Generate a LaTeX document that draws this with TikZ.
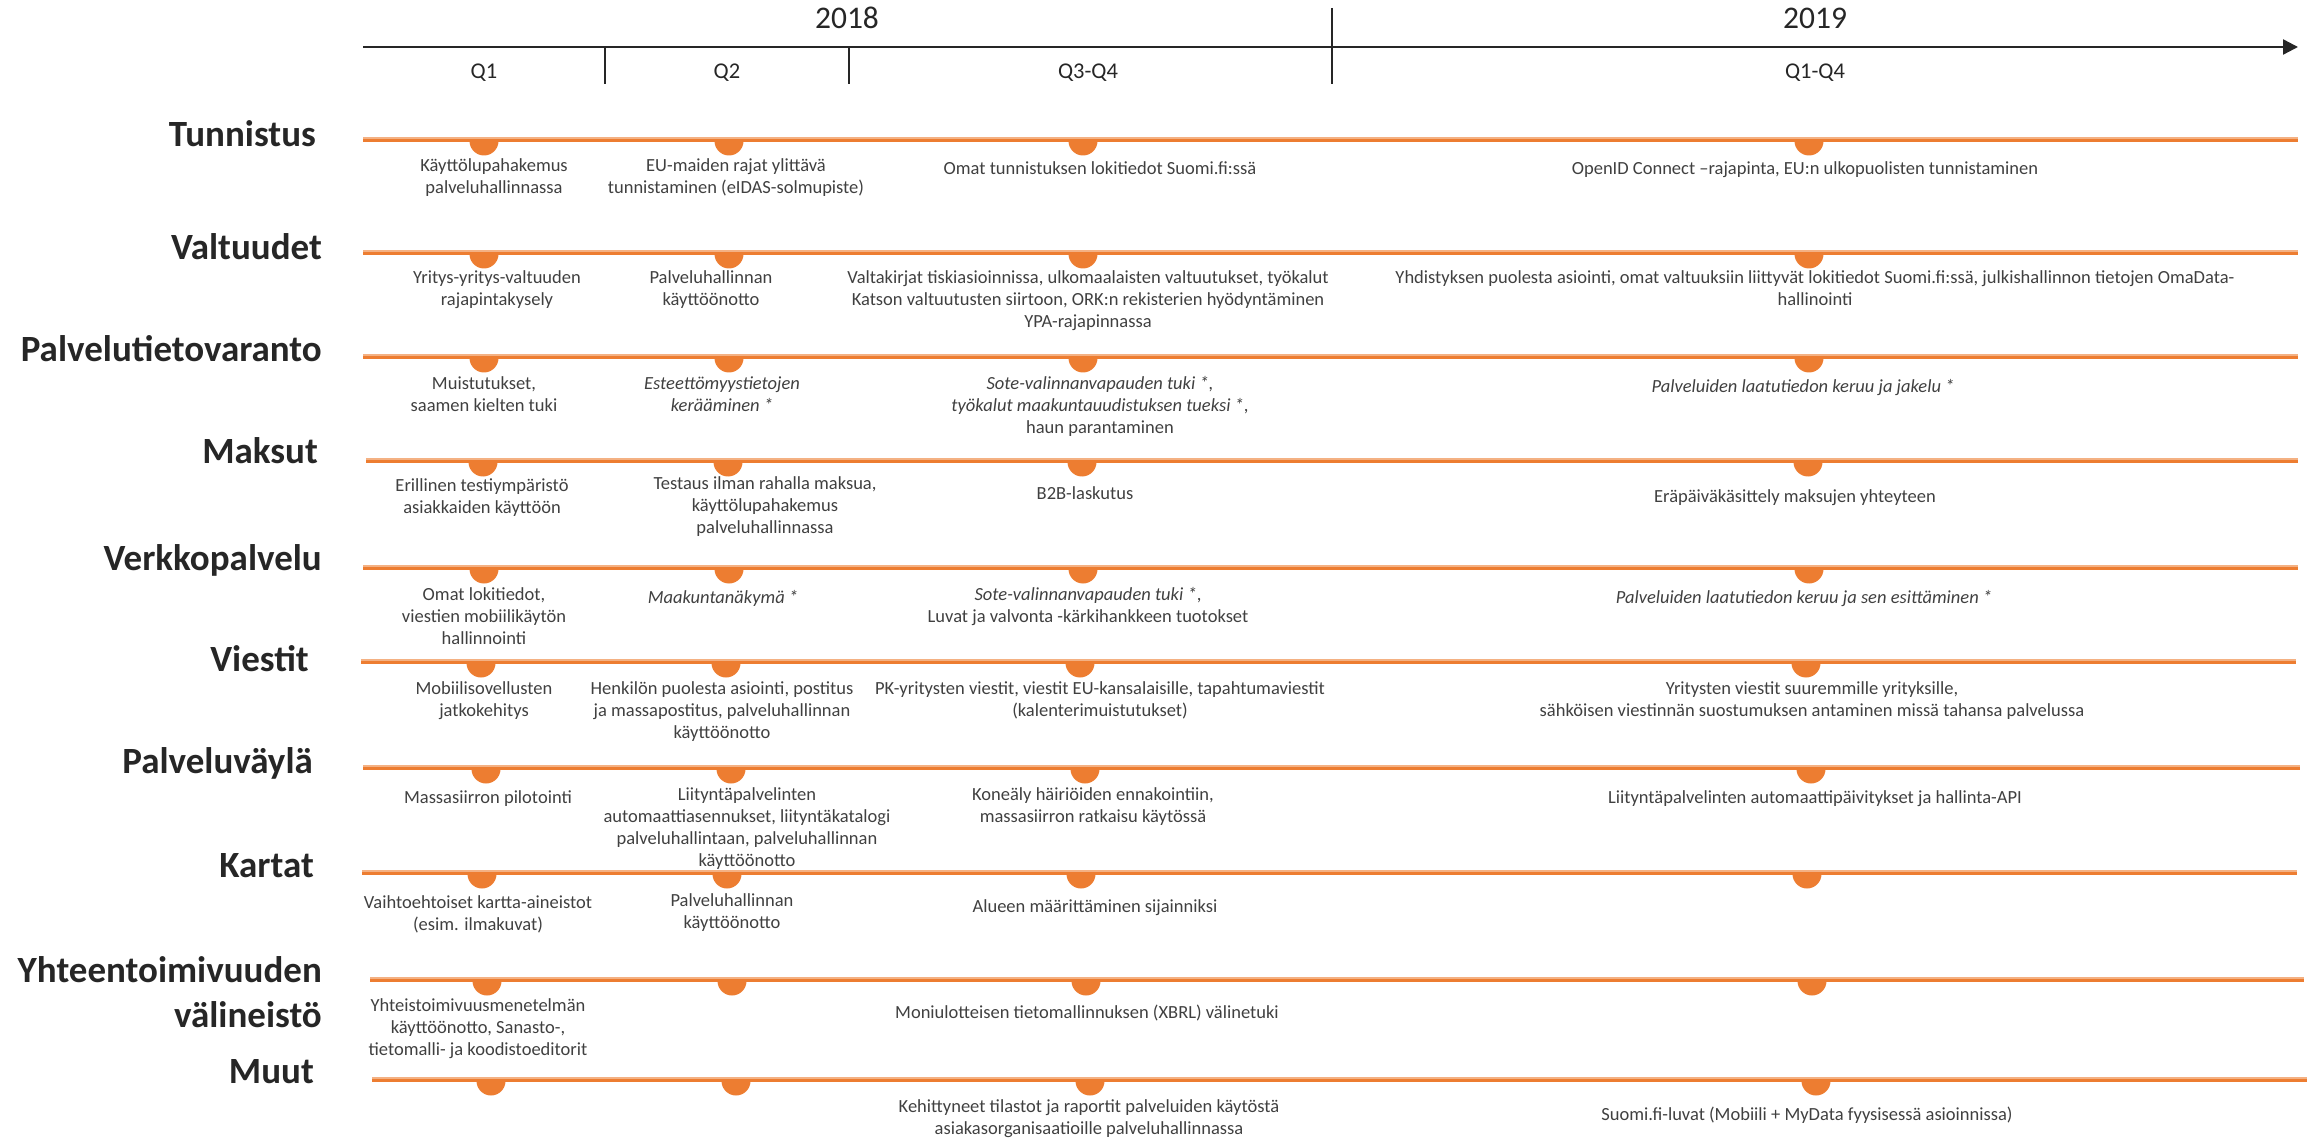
\documentclass[tikz,border=0pt]{standalone}
\usepackage{fontspec}
\setmainfont{Carlito}
\usetikzlibrary{arrows.meta}
\definecolor{roadorange}{RGB}{237,125,49}
\definecolor{roadedge}{RGB}{244,177,131}
\definecolor{inkgray}{RGB}{64,64,64}
\definecolor{inkdark}{RGB}{38,38,38}

\begin{document}
\begin{tikzpicture}
    [x=1pt, y=-1pt,
     axisline/.style={draw=inkdark, line width=2.3pt},
     trackline/.style={draw=roadorange, line width=3.8pt},
     trackedge/.style={draw=roadedge, line width=1.2pt},
     rowhead/.style={anchor=base east, align=right, inner sep=0pt, text=inkdark,
       font=\fontsize{37}{45}\selectfont\bfseries},
     item/.style={anchor=north, yshift=15.4pt, align=center, inner sep=0pt, text=inkgray,
       font=\fontsize{18.5}{22}\selectfont, execute at begin node=\strut},
     period/.style={anchor=base, inner sep=0pt, text=inkdark, font=\fontsize{22.5}{27}\selectfont},
     yearlabel/.style={anchor=base, inner sep=0pt, text=inkdark, font=\fontsize{31.5}{38}\selectfont}]
    \useasboundingbox (0,0) rectangle (2308,1139);

    \coordinate (ax-start) at (363,47);
    \coordinate (ax-end) at (2298,47);
    \draw[axisline, -{Triangle[length=15pt, width=15pt]}] (ax-start) -- (ax-end);
    \foreach \tx/\ty [count=\k] in {605/47, 849/47, 1332/8} {
      \coordinate (tick\k-top) at (\tx,\ty);
      \coordinate (tick\k-bot) at (\tx,84);
      \draw[axisline, line width=2pt] (tick\k-top) -- (tick\k-bot);
    }
    \node[yearlabel] (y2018) at (847,29) {2018};
    \node[yearlabel] (y2019) at (1815,29) {2019};
    \node[period] (q1) at (484,79) {Q1};
    \node[period] (q2) at (727,79) {Q2};
    \node[period] (q34) at (1088,79) {Q3-Q4};
    \node[period] (q14) at (1815,79) {Q1-Q4};

    \foreach \ry/\rl/\rr/\hx/\hy/\dx/\hd [count=\r] in {
        140/363/2298/316/147/0/Tunnistus,
        253/363/2298/322/260/0/Valtuudet,
        357/363/2298/322/362/0/Palvelutietovaranto,
        461/366/2298/318/463/-1/Maksut,
        568/363/2298/322/570/0/Verkkopalvelu,
        662/361/2296/309/671/-3/Viestit,
        768/363/2300/313/773/2/Palveluväylä,
        873/362/2297/314/877/-2/Kartat,
        980/370/2304/322/1027/3/{Yhteentoimivuuden\\välineistö},
        1080/372/2307/314/1083/7/Muut} {
      \coordinate (row\r-l) at (\rl,\ry);
      \coordinate (row\r-r) at (\rr,\ry);
      \draw[trackline] (row\r-l) -- (row\r-r);
      \draw[trackedge] ([yshift=2pt]row\r-l) -- ([yshift=2pt]row\r-r);
      \node[rowhead] (head\r) at (\hx,\hy) {\hd};
      \foreach \mx in {484,729,1083,1809}
        \fill[roadorange] (\mx+\dx-14.5,\ry+1) arc[start angle=180, end angle=0, radius=14.5] -- cycle;
    }

    \node[item] (tun-q1) at (494,174) {Käyttölupahakemus\\palveluhallinnassa};
    \node[item] (tun-q2) at (736,174) {EU-maiden rajat ylittävä\\tunnistaminen (eIDAS-solmupiste)};
    \node[item] (tun-q34) at (1100,174) {Omat tunnistuksen lokitiedot Suomi.fi:ssä};
    \node[item] (tun-y19) at (1805,174) {OpenID Connect –rajapinta, EU:n ulkopuolisten tunnistaminen};

    \node[item] (val-q1) at (497,286) {Yritys-yritys-valtuuden\\rajapintakysely};
    \node[item] (val-q2) at (711,286) {Palveluhallinnan\\käyttöönotto};
    \node[item] (val-q34) at (1088,286) {Valtakirjat tiskiasioinnissa, ulkomaalaisten valtuutukset, työkalut\\Katson valtuutusten siirtoon, ORK:n rekisterien hyödyntäminen\\YPA-rajapinnassa};
    \node[item] (val-y19) at (1815,286) {Yhdistyksen puolesta asiointi, omat valtuuksiin liittyvät lokitiedot Suomi.fi:ssä, julkishallinnon tietojen OmaData-\\hallinointi};

    \node[item] (pal-q1) at (484,392) {Muistutukset,\\saamen kielten tuki};
    \node[item] (pal-q2) at (722,392) {\itshape Esteettömyystietojen\\\itshape kerääminen *};
    \node[item] (pal-q34) at (1100,392) {\textit{Sote-valinnanvapauden tuki *,}\\\textit{työkalut maakuntauudistuksen tueksi *},\\haun parantaminen};
    \node[item] (pal-y19) at (1803,392) {\itshape Palveluiden laatutiedon keruu ja jakelu *};

    \node[item] (mak-q1) at (482,494) {Erillinen testiympäristö\\asiakkaiden käyttöön};
    \node[item] (mak-q2) at (765,492) {Testaus ilman rahalla maksua,\\käyttölupahakemus\\palveluhallinnassa};
    \node[item] (mak-q34) at (1085,499) {B2B-laskutus};
    \node[item] (mak-y19) at (1795,502) {Eräpäiväkäsittely maksujen yhteyteen};

    \node[item] (ver-q1) at (484,603) {Omat lokitiedot,\\viestien mobiilikäytön\\hallinnointi};
    \node[item] (ver-q2) at (723,603) {\itshape Maakuntanäkymä *};
    \node[item] (ver-q34) at (1088,603) {\textit{Sote-valinnanvapauden tuki *},\\Luvat ja valvonta -kärkihankkeen tuotokset};
    \node[item] (ver-y19) at (1804,603) {\itshape Palveluiden laatutiedon keruu ja sen esittäminen *};

    \node[item] (vie-q1) at (484,697) {Mobiilisovellusten\\jatkokehitys};
    \node[item] (vie-q2) at (722,697) {Henkilön puolesta asiointi, postitus\\ja massapostitus, palveluhallinnan\\käyttöönotto};
    \node[item] (vie-q34) at (1100,697) {PK-yritysten viestit, viestit EU-kansalaisille, tapahtumaviestit\\(kalenterimuistutukset)};
    \node[item] (vie-y19) at (1812,697) {Yritysten viestit suuremmille yrityksille,\\sähköisen viestinnän suostumuksen antaminen missä tahansa palvelussa};

    \node[item] (pv-q1) at (488,803) {Massasiirron pilotointi};
    \node[item] (pv-q2) at (747,803) {Liityntäpalvelinten\\automaattiasennukset, liityntäkatalogi\\palveluhallintaan, palveluhallinnan\\käyttöönotto};
    \node[item] (pv-q34) at (1093,803) {Koneäly häiriöiden ennakointiin,\\massasiirron ratkaisu käytössä};
    \node[item] (pv-y19) at (1815,803) {Liityntäpalvelinten automaattipäivitykset ja hallinta-API};

    \node[item] (kar-q1) at (478,911) {Vaihtoehtoiset kartta-aineistot\\(esim. ilmakuvat)};
    \node[item] (kar-q2) at (732,909) {Palveluhallinnan\\käyttöönotto};
    \node[item] (kar-q34) at (1095,912) {Alueen määrittäminen sijainniksi};

    \node[item] (yht-q1) at (478,1014) {Yhteistoimivuusmenetelmän\\käyttöönotto, Sanasto-,\\tietomalli- ja koodistoeditorit};
    \node[item] (yht-q34) at (1087,1018) {Moniulotteisen tietomallinnuksen (XBRL) välinetuki};

    \node[item] (muu-q34) at (1089,1115) {Kehittyneet tilastot ja raportit palveluiden käytöstä\\asiakasorganisaatioille palveluhallinnassa};
    \node[item] (muu-y19) at (1807,1120) {Suomi.fi-luvat (Mobiili + MyData fyysisessä asioinnissa)};
\end{tikzpicture}
\end{document}
